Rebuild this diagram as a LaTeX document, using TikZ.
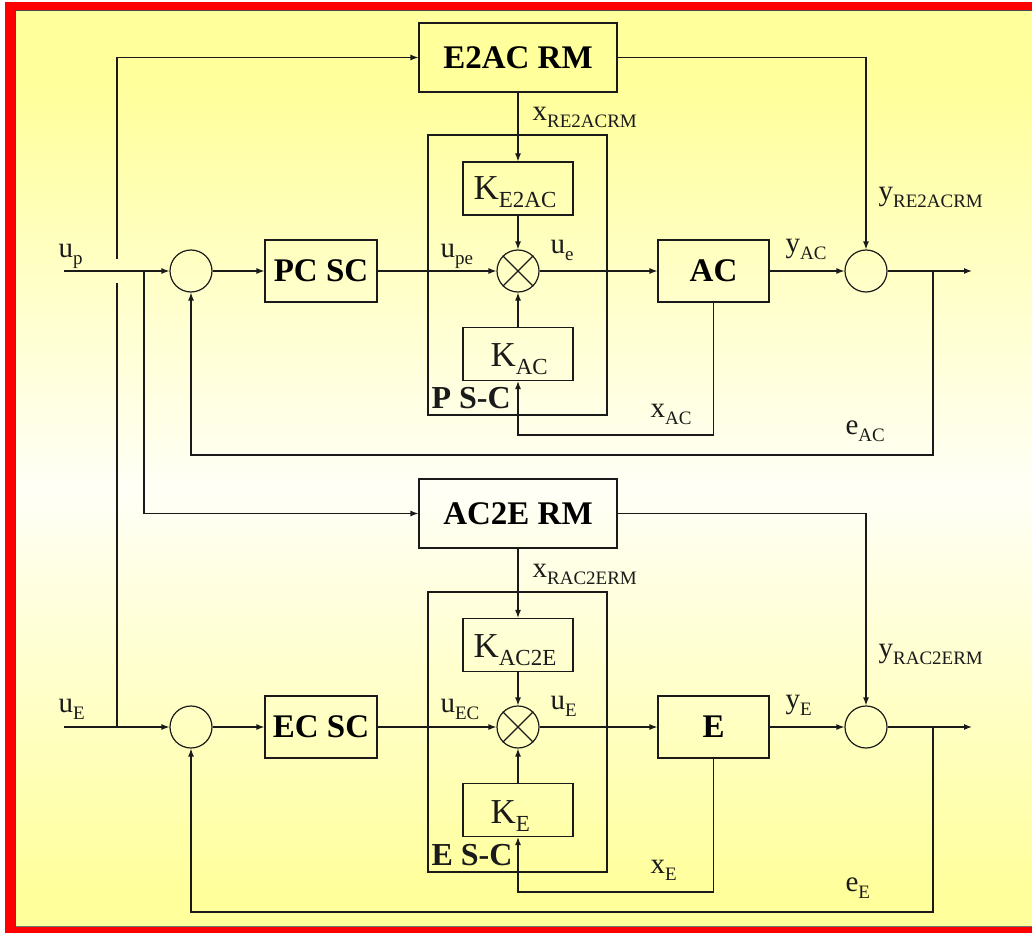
\documentclass[tikz,border=0pt]{standalone}
\usepackage{fontspec}
\setmainfont{Liberation Serif}
\usetikzlibrary{arrows.meta}
\definecolor{lc}{HTML}{1A1A1A}
\definecolor{bgY}{HTML}{FFFF9C}
\definecolor{bgW}{HTML}{FFFFF6}
\definecolor{frameRed}{HTML}{FF0000}
\newcommand{\lbl}[2]{{\fontsize{29}{29}\selectfont #1}\raisebox{-7pt}{\fontsize{19}{19}\selectfont #2}}
\newcommand{\klbl}[1]{{\fontsize{35}{35}\selectfont K}\raisebox{-8pt}{\fontsize{23}{23}\selectfont #1}}
\begin{document}
\begin{tikzpicture}[x=1pt,y=-1pt,line width=1.2pt,draw=lc,
  blk/.style={draw=lc,rectangle,inner sep=0pt,font=\fontsize{33}{33}\selectfont\bfseries},
  kbox/.style={draw=lc,rectangle,inner sep=0pt,minimum width=110pt,minimum height=53pt},
  cont/.style={draw=lc,rectangle,inner sep=0pt,minimum width=179pt,minimum height=280pt},
  sumc/.style={draw=lc,circle,inner sep=0pt,minimum size=42pt},
  lab/.style={inner sep=0pt,anchor=base west,text=lc},
  arr/.style={-{Latex[length=8pt,width=6pt]}}]
\useasboundingbox (0,0) rectangle (1032,933);
% background and frame
\fill[white] (0,0) rectangle (1032,933);
\begin{scope}
\clip (15,10) rectangle (1032,927);
\foreach \i in {0,...,183} {
  \pgfmathsetmacro{\ya}{10+5*\i}
  \pgfmathsetmacro{\yb}{\ya+5.8}
  \pgfmathtruncatemacro{\fr}{min(100,abs(\ya+2.5-490)/4.0)}
  \fill[bgY!\fr!bgW] (15,\ya) rectangle (1032,\yb);
}
\end{scope}
\fill[frameRed] (5,2) rectangle (1032,10);
\fill[frameRed] (5,2) rectangle (15,933);
\fill[frameRed] (5,927) rectangle (1032,933);
\draw[line width=1pt,lc!80] (15.5,927) -- (15.5,10.5) -- (1032,10.5);
\draw[line width=0.8pt,lc!60] (15.5,926.6) -- (1032,926.6);

% ---------------- upper loop ----------------
\node[blk,minimum width=198pt,minimum height=69pt] (e2ac) at (518,57.5) {E2AC RM};
\node[cont] (psc) at (517.5,275) {};
\node[kbox] (ke2ac) at (518,188.5) {};
\node[kbox] (kac) at (518,354) {};
\node[sumc] (s1) at (191,271) {};
\node[sumc] (m1) at (518,271) {};
\node[sumc] (s2) at (866,271) {};
\node[blk,minimum width=112pt,minimum height=62pt] (pcsc) at (321,271) {PC SC};
\node[blk,minimum width=111pt,minimum height=62pt] (ac) at (713.5,271) {AC};
\draw (m1.north east) -- (m1.south west) (m1.north west) -- (m1.south east);

% ---------------- lower loop ----------------
\node[blk,minimum width=198pt,minimum height=69pt] (ac2e) at (518,513.5) {AC2E RM};
\node[cont] (esc) at (517.5,732) {};
\node[kbox] (kac2e) at (518,645) {};
\node[kbox] (ke) at (518,810) {};
\node[sumc] (s3) at (191,727) {};
\node[sumc] (m2) at (518,727) {};
\node[sumc] (s4) at (866,727) {};
\node[blk,minimum width=112pt,minimum height=62pt] (ecsc) at (321,727) {EC SC};
\node[blk,minimum width=111pt,minimum height=62pt] (e) at (713.5,727) {E};
\draw (m2.north east) -- (m2.south west) (m2.north west) -- (m2.south east);

% coordinates
\coordinate (upin) at (64,271);
\coordinate (uein) at (64,727);
\coordinate (out1) at (972,271);
\coordinate (out2) at (972,727);
\coordinate (j1) at (144,271);
\coordinate (vA) at (117,727);
\coordinate (gapB) at (117,283);
\coordinate (gapT) at (117,259);
\coordinate (br1) at (933,271);
\coordinate (br2) at (933,727);
\coordinate (fb1) at (713.5,435);
\coordinate (fb2) at (713.5,892);
\coordinate (eb1) at (933,455);
\coordinate (eb2) at (933,912);

% upper connectors
\draw[arr] (upin) -- (s1);
\draw (vA) -- (gapB);
\draw[arr] (gapT) |- (e2ac.west);
\draw[arr] (j1) |- (ac2e.west);
\draw[arr] (s1) -- (pcsc);
\draw[arr] (pcsc) -- (m1);
\draw[arr] (m1) -- (ac);
\draw[arr] (ac) -- (s2);
\draw[arr] (s2) -- (out1);
\draw[arr] (e2ac) -- (ke2ac);
\draw[arr] (ke2ac) -- (m1);
\draw[arr] (kac) -- (m1);
\draw[arr] (ac.south) -- (fb1) -| (kac.south);
\draw[arr] (e2ac.east) -| (s2.north);
\draw[arr] (br1) -- (eb1) -| (s1.south);

% lower connectors
\draw[arr] (uein) -- (s3);
\draw[arr] (s3) -- (ecsc);
\draw[arr] (ecsc) -- (m2);
\draw[arr] (m2) -- (e);
\draw[arr] (e) -- (s4);
\draw[arr] (s4) -- (out2);
\draw[arr] (ac2e) -- (kac2e);
\draw[arr] (kac2e) -- (m2);
\draw[arr] (ke) -- (m2);
\draw[arr] (e.south) -- (fb2) -| (ke.south);
\draw[arr] (ac2e.east) -| (s4.north);
\draw[arr] (br2) -- (eb2) -| (s3.south);

% K labels
\node[lab] (tke2ac) at (473,200) {\klbl{E2AC}};
\node[lab] (tkac) at (490,366) {\klbl{AC}};
\node[lab] (tkac2e) at (473,657) {\klbl{AC2E}};
\node[lab] (tke) at (490,823) {\klbl{E}};

% signal labels upper
\node[lab] (lup) at (58,257) {\lbl{u}{p}};
\node[lab] (lupe) at (440,257) {\lbl{u}{pe}};
\node[lab] (lue1) at (550,253) {\lbl{u}{e}};
\node[lab] (lx1) at (532,121) {\lbl{x}{RE2ACRM}};
\node[lab] (lyac) at (785,252) {\lbl{y}{AC}};
\node[lab] (ly1) at (878,201) {\lbl{y}{RE2ACRM}};
\node[lab] (lxac) at (650,417) {\lbl{x}{AC}};
\node[lab] (leac) at (845,434) {\lbl{e}{AC}};
\node[lab,font=\fontsize{32}{32}\selectfont\bfseries] (lpsc) at (431,408) {P S-C};

% signal labels lower
\node[lab] (lue) at (58,712) {\lbl{u}{E}};
\node[lab] (luec) at (440,712) {\lbl{u}{EC}};
\node[lab] (lue2) at (550,709) {\lbl{u}{E}};
\node[lab] (lx2) at (532,577) {\lbl{x}{RAC2ERM}};
\node[lab] (lye) at (785,708) {\lbl{y}{E}};
\node[lab] (ly2) at (878,657) {\lbl{y}{RAC2ERM}};
\node[lab] (lxe) at (650,873) {\lbl{x}{E}};
\node[lab] (lee) at (845,891) {\lbl{e}{E}};
\node[lab,font=\fontsize{32}{32}\selectfont\bfseries] (lesc) at (431,865) {E S-C};
\end{tikzpicture}
\end{document}
